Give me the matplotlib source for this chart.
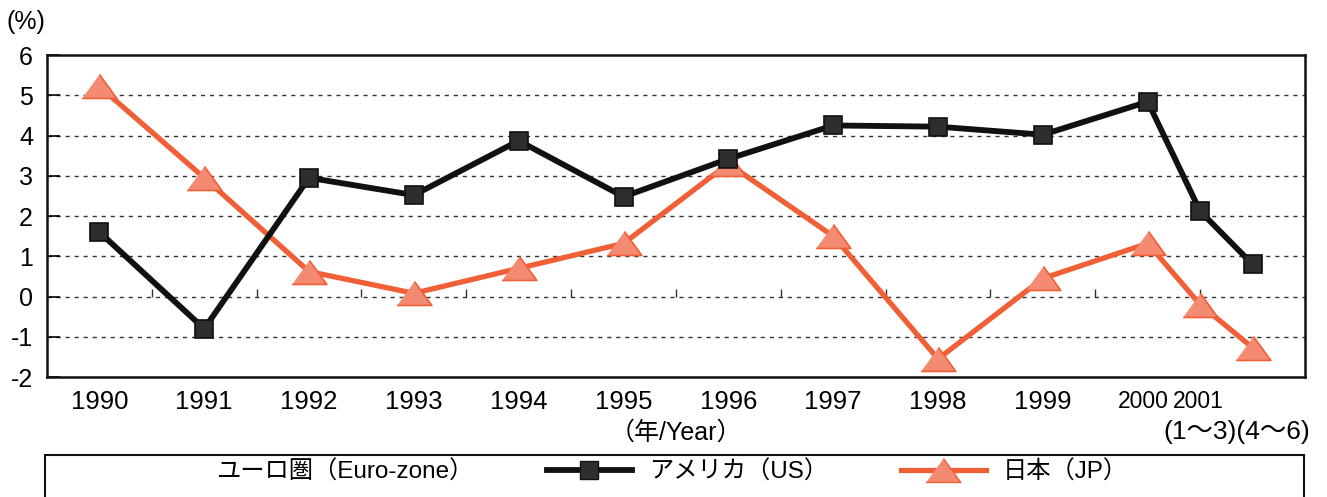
import numpy as np
import matplotlib
matplotlib.use("Agg")
import matplotlib.pyplot as plt
from matplotlib.lines import Line2D
from matplotlib.patches import Rectangle
import matplotlib.transforms as mtransforms

plt.rcParams['font.family'] = ['Liberation Sans', 'Noto Sans CJK JP', 'DejaVu Sans']

# ---- data ----
tick_labels = ["1990", "1991", "1992", "1993", "1994", "1995", "1996",
               "1997", "1998", "1999", "2000", "2001", ""]
x_pos = list(range(11)) + [10.5, 11]
us = [1.6, -0.8, 2.95, 2.52, 3.87, 2.48, 3.42, 4.25, 4.22, 4.02, 4.84, 2.12, 0.8]
jp = [5.22, 2.95, 0.62, 0.08, 0.7, 1.32, 3.3, 1.5, -1.55, 0.45, 1.32, -0.2, -1.27]
euro_label = "ユーロ圏（Euro-zone）"
us_label = "アメリカ（US）"
jp_label = "日本（JP）"

US_COLOR = "#111111"
US_FACE = "#2e2e2e"
JP_COLOR = "#F05F35"
JP_FACE = "#F48A72"

fig = plt.figure(figsize=(13.27, 4.97), dpi=100)
ax = fig.add_axes([0.0354, 0.2414, 0.948, 0.6479])

tri = [(-1.45, -1.0), (1.45, -1.0), (0.0, 1.0)]

ax.plot(x_pos, jp, color=JP_COLOR, lw=3.8, marker=tri, markersize=25,
        markerfacecolor=JP_FACE, markeredgecolor=JP_COLOR, markeredgewidth=1.2,
        zorder=3)
ax.plot(x_pos, us, color=US_COLOR, lw=4.2, marker='s', markersize=13.5,
        markerfacecolor=US_FACE, markeredgecolor=US_COLOR, markeredgewidth=1.2,
        zorder=4)

ax.set_xlim(-0.5, 11.5)
ax.set_ylim(-2, 6)
ax.set_yticks(range(-2, 7))
ax.set_yticklabels([str(v) for v in range(-2, 7)], fontsize=18)
ax.set_xticks(x_pos)
ax.set_xticklabels(tick_labels, fontsize=18.5)
ax.tick_params(axis='x', length=0, pad=9)
ax.tick_params(axis='y', direction='in', length=9, width=1.2, pad=10)

# the two crowded labels at the right end
xt = ax.get_xticklabels()
for idx, dx in ((10, -4), (11, -2)):
    xt[idx].set_fontsize(16.5)
    xt[idx].set_transform(xt[idx].get_transform() +
                          mtransforms.ScaledTranslation(dx / 100, 0, fig.dpi_scale_trans))

for v in range(-1, 6):
    ax.axhline(v, color="#333333", lw=1.0, ls=(0, (3, 3.5)), zorder=1)

for s in ax.spines.values():
    s.set_linewidth(1.8)
    s.set_color("#111111")

# small ticks along the zero line between categories
sec = ax.secondary_xaxis(0.25)
sec.set_xticks([k + 0.5 for k in range(11)])
sec.set_xticklabels([])
sec.tick_params(axis='x', direction='in', length=6, width=1.0, colors="#333333")
sec.spines['bottom'].set_visible(False)

ax.text(0.5, -0.172, "（年/Year）", transform=ax.transAxes, ha='center', va='center',
        fontsize=18)
ax.text(1.004, -0.172, "(1〜3)(4〜6)", transform=ax.transAxes, ha='right', va='center',
        fontsize=19)
fig.text(0.005, 0.955, "(%)", fontsize=18, ha='left', va='center')

# legend box
fig.add_artist(Rectangle((0.034, -0.05), 0.949, 0.135, transform=fig.transFigure,
                         facecolor='white', edgecolor='#111111', lw=1.5, zorder=0))
handles = [
    Line2D([], [], color='none'),
    Line2D([], [], color=US_COLOR, lw=4.2, marker='s', markersize=13.5,
           markerfacecolor=US_FACE, markeredgecolor=US_COLOR),
    Line2D([], [], color=JP_COLOR, lw=3.8, marker=tri, markersize=25,
           markerfacecolor=JP_FACE, markeredgecolor=JP_COLOR),
]
fig.legend(handles, [euro_label, us_label, jp_label], ncol=3, frameon=False,
           loc='center', bbox_to_anchor=(0.468, 0.05), fontsize=17.5,
           handlelength=3.5, handletextpad=0.7, columnspacing=3.0,
           markerscale=1.0)

fig.savefig("out.png", dpi=100)
